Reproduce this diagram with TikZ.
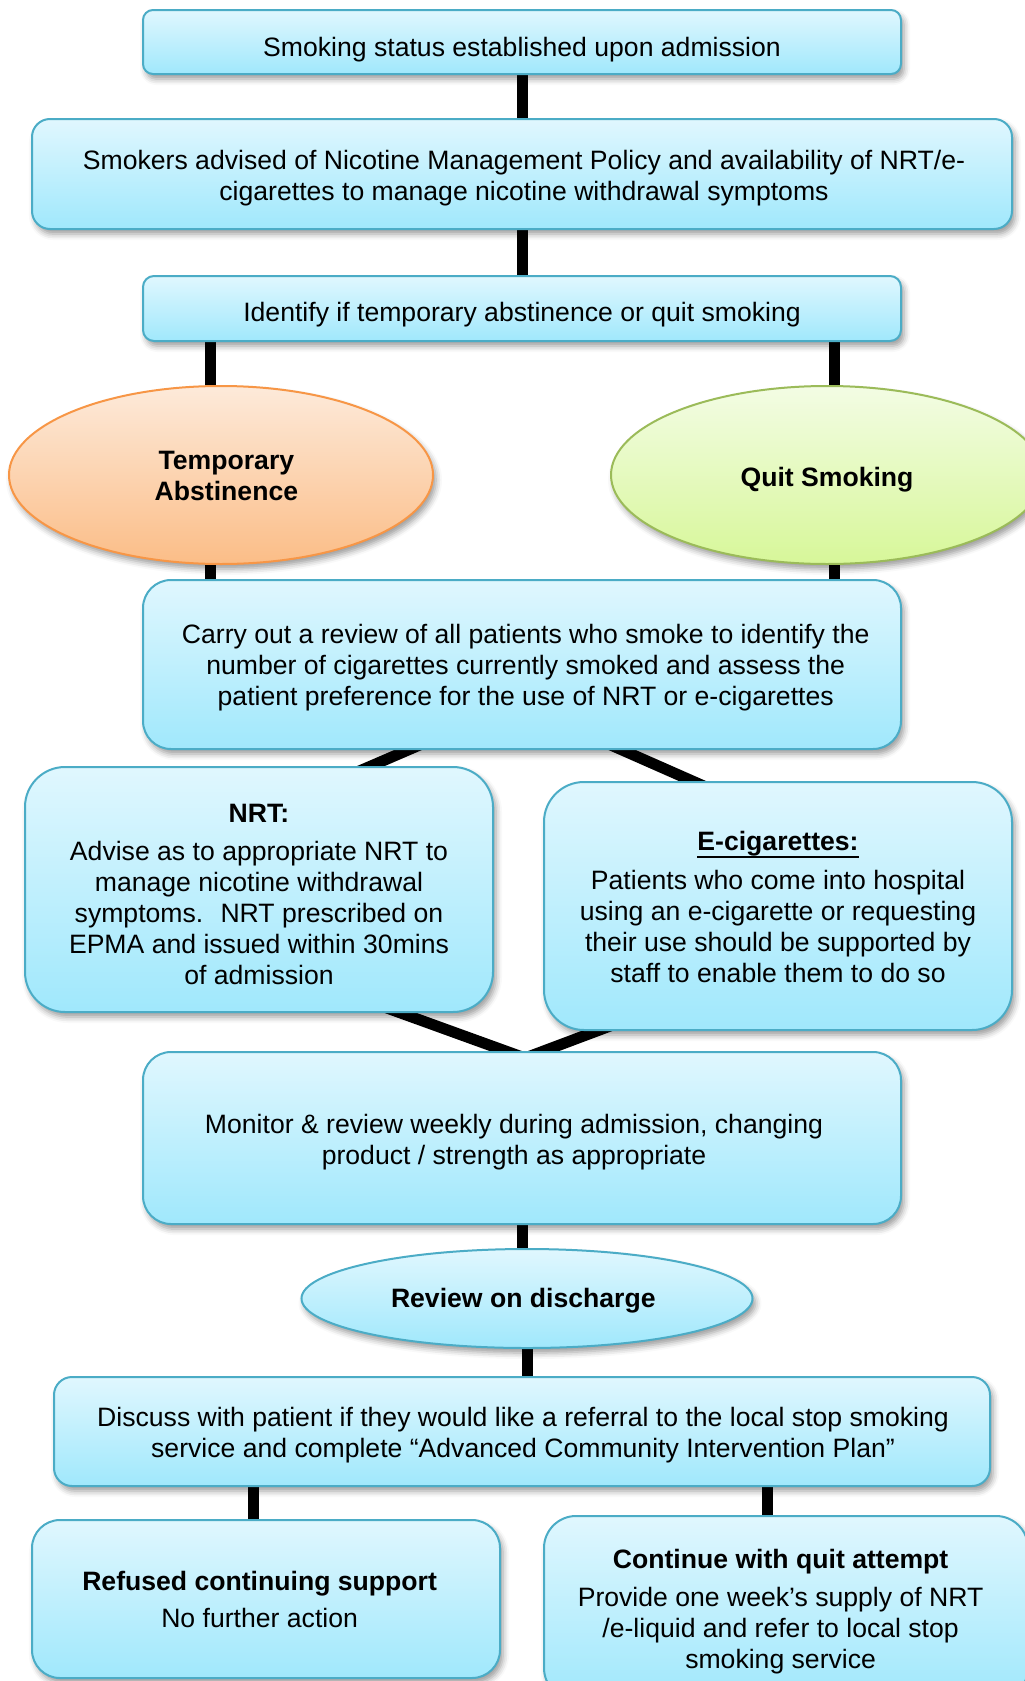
\documentclass[tikz,border=0pt]{standalone}
\usepackage{fontspec}
\setmainfont{Liberation Sans}
\usetikzlibrary{shapes.geometric,shadows.blur}
\pgfdeclarelayer{background}
\pgfsetlayers{background,main}
\definecolor{boxtop}{RGB}{224,247,254}
\definecolor{boxbot}{RGB}{160,232,252}
\definecolor{boxline}{RGB}{75,172,198}
\definecolor{orgtop}{RGB}{253,234,218}
\definecolor{orgbot}{RGB}{251,189,135}
\definecolor{orgline}{RGB}{247,150,70}
\definecolor{grntop}{RGB}{243,252,228}
\definecolor{grnbot}{RGB}{215,247,153}
\definecolor{grnline}{RGB}{155,187,89}
\newcommand{\myul}[1]{\setbox0\hbox{#1}\rlap{\rule[-4.2pt]{\wd0}{1pt}}\box0}
\tikzset{
  softshadow/.style={blur shadow={shadow xshift=1.5pt, shadow yshift=-2.5pt, shadow blur radius=3pt, shadow opacity=40}},
  box/.style={draw=boxline, line width=1pt, top color=boxtop, bottom color=boxbot,
    inner sep=0pt, softshadow},
  oval/.style={ellipse, draw, line width=1pt, inner sep=0pt, softshadow},
  lbl/.style={align=center, inner sep=0pt},
  blbl/.style={lbl, font=\fontsize{13.3}{15.5}\selectfont\bfseries},
  conn/.style={line width=5.5pt, black},
}
\begin{document}
\begin{tikzpicture}[x=0.5pt,y=-0.5pt, font=\fontsize{13.3}{15.5}\selectfont]
\useasboundingbox (0,0) rectangle (1024,1681);

% boxes
\node[box, rounded corners=5pt, minimum width=379pt, minimum height=32pt] (b1) at (522,42) {};
\node[box, rounded corners=9pt, minimum width=490pt, minimum height=55pt] (b2) at (522,174) {};
\node[box, rounded corners=5.5pt, minimum width=379pt, minimum height=32.5pt] (b3) at (522,308.5) {};
\node[oval, draw=orgline, top color=orgtop, bottom color=orgbot, minimum width=212pt, minimum height=89pt] (ta) at (221,475) {};
\node[oval, draw=grnline, top color=grntop, bottom color=grnbot, minimum width=216pt, minimum height=89pt] (qs) at (827,475) {};
\node[box, rounded corners=14pt, minimum width=379pt, minimum height=84.5pt] (b4) at (522,664.5) {};
\node[box, rounded corners=20pt, minimum width=234pt, minimum height=122.5pt] (nrt) at (259,889.5) {};
\node[box, rounded corners=20pt, minimum width=234pt, minimum height=124pt] (ecig) at (778,906) {};
\node[box, rounded corners=14pt, minimum width=379pt, minimum height=86pt] (mon) at (522,1138) {};
\node[oval, draw=boxline, top color=boxtop, bottom color=boxbot, minimum width=225.5pt, minimum height=49.5pt] (rev) at (527,1298.5) {};
\node[box, rounded corners=9pt, minimum width=468pt, minimum height=54.5pt] (disc) at (522,1431.5) {};
\node[box, rounded corners=14pt, minimum width=234pt, minimum height=79pt] (ref) at (266,1599) {};
\node[box, rounded corners=16pt, minimum width=242pt, minimum height=92pt] (cont) at (786,1608) {};

% texts
\node[lbl] (b1t) at ([shift={(0,7.5)}]b1.center) {Smoking status established upon admission};
\node[lbl] (b2t) at ([shift={(2,4.3)}]b2.center)
  {Smokers advised of Nicotine Management Policy and availability of NRT/e-\\cigarettes to manage nicotine withdrawal symptoms};
\node[lbl] (b3t) at ([shift={(0,6.4)}]b3.center) {Identify if temporary abstinence or quit smoking};
\node[blbl] (tat) at ([shift={(5.4,1)}]ta.center) {Temporary\\Abstinence};
\node[blbl] (qst) at ([shift={(0,4.3)}]qs.center) {Quit Smoking};
\node[lbl] (b4t) at ([shift={(3.7,3.2)}]b4.center)
  {Carry out a review of all patients who smoke to identify the\\number of cigarettes currently smoked and assess the\\patient preference for the use of NRT or e-cigarettes};
\node[lbl] (nrtt) at ([shift={(0,4.5)}]nrt.center)
  {\textbf{NRT:}\\[3.5pt]Advise as to appropriate NRT to\\manage nicotine withdrawal\\symptoms.~ NRT prescribed on\\EPMA and issued within 30mins\\of admission};
\node[lbl] (ecigt) at ([shift={(0,0.5)}]ecig.center)
  {\textbf{\myul{E-cigarettes:}}\\[4pt]Patients who come into hospital\\using an e-cigarette or requesting\\their use should be supported by\\staff to enable them to do so};
\node[lbl] (mont) at ([shift={(-8,4.3)}]mon.center)
  {Monitor \& review weekly during admission, changing\\product / strength as appropriate};
\node[blbl] (revt) at ([shift={(-3.7,2)}]rev.center) {Review on discharge};
\node[lbl] (disct) at ([shift={(1,3.2)}]disc.center)
  {Discuss with patient if they would like a referral to the local stop smoking\\service and complete “Advanced Community Intervention Plan”};
\node[lbl] (reft) at ([shift={(-6.4,0)}]ref.center)
  {\textbf{Refused continuing support}\\[3pt]No further action};
\node[lbl] (contt) at ([shift={(-5.4,3.2)}]cont.center)
  {\textbf{Continue with quit attempt}\\[3.5pt]Provide one week’s supply of NRT\\/e-liquid and refer to local stop\\smoking service};

\coordinate (xl) at (210,0);
\coordinate (xr) at (834,0);
\coordinate (xm) at (522,0);
\coordinate (xd) at (527,0);
\coordinate (xa) at (253,0);
\coordinate (xb) at (767,0);
\coordinate (p1) at (466,725);
\coordinate (p2) at (320,788);
\coordinate (p3) at (570,727);
\coordinate (p4) at (740,802);
\coordinate (q1) at (340,991);
\coordinate (q2) at (525,1058);
\coordinate (q3) at (650,1011);

\begin{pgfonlayer}{background}
\draw[conn] (b1) -- (b2);
\draw[conn] (b2) -- (b3);
\draw[conn] (b3.center -| xl) -- (ta.center -| xl) -- (b4.center -| xl);
\draw[conn] (b3.center -| xr) -- (qs.center -| xr) -- (b4.center -| xr);
\draw[conn] (p1) -- (p2);
\draw[conn] (p3) -- (p4);
\draw[conn] (q1) -- (q2) -- (q3);
\draw[conn] (mon.center -| xm) -- (rev.center -| xm);
\draw[conn] (rev.center -| xd) -- (disc.center -| xd);
\draw[conn] (disc.center -| xa) -- (ref.center -| xa);
\draw[conn] (disc.center -| xb) -- (cont.center -| xb);
\end{pgfonlayer}
\end{tikzpicture}
\end{document}
